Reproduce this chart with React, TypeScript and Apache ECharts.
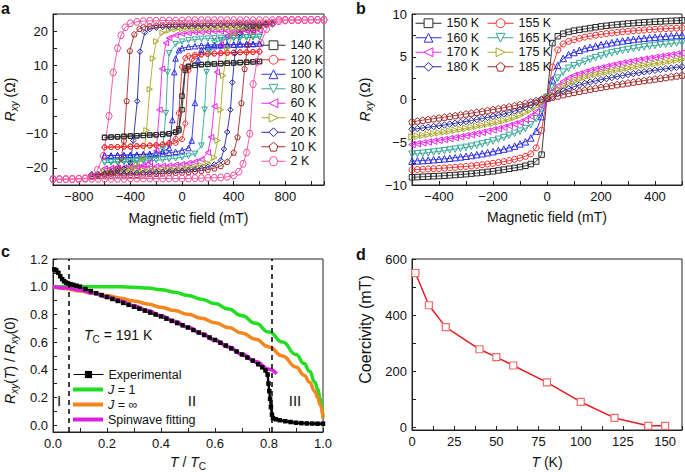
import React, { useEffect, useRef } from 'react';
import * as echarts from 'echarts';

// ---------------- Panel a : hysteresis loops (field mT, Rxy Ohm) ----------------
const A_NAMES = ['140 K', '120 K', '100 K', '80 K', '60 K', '40 K', '20 K', '10 K', '2 K'];

const A140_UP = [[-600,-11.1],[-550,-11.0],[-500,-10.9],[-450,-10.8],[-400,-10.7],[-350,-10.6],[-300,-10.5],[-250,-10.4],[-200,-10.3],[-150,-10.2],[-100,-10.0],[-50,-9.6],[-25,-9.1],[0,-3],[25,8.5],[50,9.6],[100,10.0],[150,10.2],[200,10.3],[250,10.4],[300,10.5],[350,10.6],[400,10.7],[450,10.8],[500,10.9],[550,11.0],[600,11.1]];
const A140_DOWN = [[-600,-11.1],[-550,-11.0],[-500,-10.9],[-450,-10.8],[-400,-10.7],[-350,-10.6],[-300,-10.5],[-250,-10.4],[-200,-10.3],[-150,-10.2],[-100,-10.0],[-50,-9.5],[-25,-8.6],[0,1],[25,9.2],[50,9.7],[100,10.0],[150,10.2],[200,10.3],[250,10.4],[300,10.5],[350,10.6],[400,10.7],[450,10.8],[500,10.9],[550,11.0],[600,11.1]];
const A120_UP = [[-600,-14.0],[-550,-13.9],[-500,-13.9],[-450,-13.8],[-400,-13.8],[-350,-13.7],[-300,-13.6],[-250,-13.5],[-200,-13.4],[-150,-13.3],[-100,-13.1],[-50,-12.7],[0,-11.6],[25,-7],[50,8.5],[75,11.8],[100,12.6],[150,13.1],[200,13.3],[250,13.4],[300,13.5],[350,13.6],[400,13.7],[450,13.8],[500,13.8],[550,13.9],[600,14.0]];
const A120_DOWN = [[-600,-14.0],[-550,-13.9],[-500,-13.9],[-450,-13.8],[-400,-13.7],[-350,-13.6],[-300,-13.5],[-250,-13.4],[-200,-13.3],[-150,-13.1],[-100,-12.7],[-50,-11.5],[-25,-4],[0,9.5],[25,12.1],[50,12.7],[100,13.1],[150,13.3],[200,13.4],[250,13.5],[300,13.6],[350,13.7],[400,13.7],[450,13.8],[500,13.8],[550,13.9],[600,14.0]];
const A100_UP = [[-600,-16.4],[-550,-16.4],[-500,-16.3],[-450,-16.3],[-400,-16.2],[-350,-16.2],[-300,-16.1],[-250,-16.0],[-200,-15.9],[-150,-15.8],[-100,-15.6],[-50,-15.3],[0,-14.9],[50,-14.2],[75,-12],[100,-1],[125,11.5],[150,14.5],[200,15.3],[250,15.6],[300,15.8],[350,15.9],[400,16.0],[450,16.1],[500,16.2],[550,16.2],[600,16.3]];
const A100_DOWN = [[-600,-16.4],[-550,-16.4],[-500,-16.3],[-450,-16.3],[-400,-16.2],[-350,-16.1],[-300,-16.0],[-250,-15.9],[-200,-15.6],[-150,-15.2],[-100,-14.2],[-75,-6],[-60,8],[-50,12],[-25,14.4],[0,15.0],[50,15.4],[100,15.6],[150,15.8],[200,15.9],[250,16.0],[300,16.0],[350,16.1],[400,16.1],[450,16.2],[500,16.2],[550,16.3],[600,16.3]];
const A80_UP = [[-600,-18.4],[-550,-18.4],[-500,-18.3],[-450,-18.3],[-400,-18.2],[-350,-18.1],[-300,-18.0],[-250,-17.9],[-200,-17.8],[-150,-17.6],[-100,-17.4],[-50,-17.2],[0,-16.9],[50,-16.5],[100,-15.9],[150,-13.5],[175,-3],[190,8],[210,14],[250,16.6],[300,17.3],[350,17.7],[400,17.9],[450,18.0],[500,18.1],[550,18.2],[600,18.3]];
const A80_DOWN = [[-600,-18.4],[-550,-18.3],[-500,-18.2],[-450,-18.1],[-400,-18.0],[-350,-17.8],[-300,-17.6],[-250,-17.2],[-200,-16.6],[-150,-14.5],[-125,-4],[-112,8],[-100,13.5],[-50,16.2],[0,16.9],[50,17.3],[100,17.5],[150,17.7],[200,17.8],[250,17.9],[300,18.0],[350,18.1],[400,18.1],[450,18.2],[500,18.2],[550,18.3],[600,18.3]];
const A60_UP = [[-600,-20.2],[-550,-20.1],[-500,-20.1],[-450,-20.0],[-400,-19.9],[-350,-19.8],[-300,-19.7],[-250,-19.6],[-200,-19.5],[-150,-19.4],[-100,-19.3],[-50,-19.1],[0,-18.9],[50,-18.6],[100,-18.2],[150,-17.5],[200,-15.5],[225,-11],[250,-2],[270,8],[300,16],[350,18.6],[400,19.4],[450,19.8],[500,20.0],[550,20.1],[600,20.2]];
const A60_DOWN = [[-600,-20.2],[-550,-20.1],[-500,-20.0],[-450,-19.9],[-400,-19.8],[-350,-19.6],[-300,-19.2],[-250,-18.3],[-200,-15],[-175,-3],[-155,9],[-125,16.5],[-100,18.0],[-50,18.8],[0,19.2],[50,19.4],[100,19.6],[150,19.7],[200,19.8],[250,19.9],[300,19.9],[350,20.0],[400,20.0],[450,20.1],[500,20.1],[550,20.2],[600,20.2]];
const A40_UP = [[-600,-21.1],[-550,-21.0],[-500,-21.0],[-450,-20.9],[-400,-20.9],[-350,-20.8],[-300,-20.7],[-250,-20.6],[-200,-20.5],[-150,-20.4],[-100,-20.3],[-50,-20.2],[0,-20.0],[50,-19.8],[100,-19.6],[150,-19.2],[200,-18.6],[250,-17],[275,-12],[300,-3],[320,7],[350,15],[400,19.3],[450,20.4],[500,20.8],[550,21.0],[600,21.1]];
const A40_DOWN = [[-600,-21.1],[-550,-21.0],[-500,-20.8],[-450,-20.5],[-400,-20.0],[-350,-19.2],[-300,-17.2],[-275,-9],[-250,3],[-225,12],[-200,17],[-150,19.5],[-100,20.2],[-50,20.5],[0,20.6],[50,20.7],[100,20.8],[150,20.8],[200,20.9],[250,20.9],[300,21.0],[350,21.0],[400,21.0],[450,21.1],[500,21.1],[550,21.1],[600,21.1]];
const A20_UP = [[-700,-21.9],[-650,-21.9],[-600,-21.8],[-550,-21.8],[-500,-21.7],[-450,-21.7],[-400,-21.6],[-350,-21.5],[-300,-21.4],[-250,-21.3],[-200,-21.2],[-150,-21.1],[-100,-21.0],[-50,-20.9],[0,-20.8],[50,-20.6],[100,-20.4],[150,-20.1],[200,-19.7],[250,-19.0],[300,-17.8],[325,-14.5],[350,-9.5],[375,-3],[390,5],[410,13.5],[450,19.3],[500,20.9],[550,21.4],[600,21.6],[650,21.8],[700,21.9]];
const A20_DOWN = [[-700,-21.9],[-650,-21.8],[-600,-21.6],[-550,-21.3],[-500,-20.9],[-450,-20.2],[-400,-18.5],[-378,-12],[-347,-0.5],[-326,14],[-288,19.6],[-250,20.6],[-200,21.0],[-150,21.2],[-100,21.3],[-50,21.4],[0,21.5],[50,21.5],[100,21.6],[150,21.6],[200,21.7],[250,21.7],[300,21.8],[350,21.8],[400,21.8],[450,21.9],[500,21.9],[550,21.9],[600,21.9],[650,21.9],[700,22.0]];
const A10_UP = [[-700,-22.3],[-650,-22.3],[-600,-22.2],[-550,-22.2],[-500,-22.1],[-450,-22.1],[-400,-22.0],[-350,-22.0],[-300,-21.9],[-250,-21.8],[-200,-21.7],[-150,-21.6],[-100,-21.5],[-50,-21.4],[0,-21.3],[50,-21.2],[100,-21.0],[150,-20.8],[200,-20.5],[250,-20.1],[300,-19.4],[350,-18.2],[400,-15.5],[430,-11],[460,-1],[485,9],[510,16],[550,20.3],[600,21.6],[650,22.1],[700,22.3]];
const A10_DOWN = [[-700,-22.3],[-650,-22.1],[-600,-21.8],[-550,-21.2],[-500,-20],[-470,-17],[-450,-12],[-429,-0.4],[-404,14.3],[-370,19.1],[-330,20.7],[-300,21.2],[-250,21.5],[-200,21.7],[-150,21.8],[-100,21.9],[-50,22.0],[0,22.0],[50,22.1],[100,22.1],[150,22.1],[200,22.2],[250,22.2],[300,22.2],[350,22.2],[400,22.3],[450,22.3],[500,22.3],[550,22.3],[600,22.3],[650,22.3],[700,22.3]];
const A2_UP = [[-1100,-23.3],[-1050,-23.3],[-1000,-23.3],[-950,-23.3],[-900,-23.3],[-850,-23.3],[-800,-23.2],[-750,-23.2],[-700,-23.2],[-650,-23.2],[-600,-23.2],[-550,-23.2],[-500,-23.2],[-450,-23.2],[-400,-23.1],[-350,-23.1],[-300,-23.1],[-250,-23.1],[-200,-23.1],[-150,-23.1],[-100,-23.1],[-50,-23.1],[0,-23.1],[50,-23.1],[100,-23.0],[150,-23.0],[200,-22.9],[250,-22.9],[300,-22.8],[350,-22.6],[400,-22.2],[440,-21.1],[473,-18.8],[500,-15.5],[525,-10],[551,4.5],[580,11],[610,16.5],[655,20.6],[700,22.4],[750,22.9],[800,23.1],[850,23.2],[900,23.2],[950,23.2],[1000,23.3],[1050,23.3],[1100,23.3]];
const A2_DOWN = [[-1100,-23.3],[-1050,-23.3],[-1000,-23.3],[-950,-23.3],[-900,-23.3],[-850,-23.2],[-800,-23.2],[-750,-23.0],[-700,-22.5],[-655,-20.6],[-610,-16.5],[-566,-4.8],[-533,7.9],[-500,15],[-473,18.8],[-440,21.1],[-400,22.3],[-350,22.7],[-300,22.9],[-250,23.0],[-200,23.0],[-150,23.1],[-100,23.1],[-50,23.1],[0,23.1],[50,23.2],[100,23.2],[150,23.2],[200,23.2],[250,23.2],[300,23.2],[350,23.2],[400,23.2],[450,23.2],[500,23.2],[550,23.2],[600,23.2],[650,23.2],[700,23.2],[750,23.3],[800,23.3],[850,23.3],[900,23.3],[950,23.3],[1000,23.3],[1050,23.3],[1100,23.3]];

const A_UP = [A140_UP, A120_UP, A100_UP, A80_UP, A60_UP, A40_UP, A20_UP, A10_UP, A2_UP];
const A_DOWN = [A140_DOWN, A120_DOWN, A100_DOWN, A80_DOWN, A60_DOWN, A40_DOWN, A20_DOWN, A10_DOWN, A2_DOWN];
const A_X_TICKS = { min: -1000, max: 1100, step: 200, labelStep: 400 };
const A_Y_TICKS = { min: -25, max: 25, step: 5, labelStep: 10 };

// ---------------- Panel b : above 150 K ----------------
const B_NAMES = ['150 K', '155 K', '160 K', '165 K', '170 K', '175 K', '180 K', '185 K'];
const B_FIELD = [-500,-480,-460,-440,-420,-400,-380,-360,-340,-320,-300,-280,-260,-240,-220,-200,-180,-160,-140,-120,-100,-80,-60,-40,-20,0,20,40,60,80,100,120,140,160,180,200,220,240,260,280,300,320,340,360,380,400,420,440,460,480,500];
const B150 = [-9.1,-9.07,-9.04,-9.01,-8.98,-8.95,-8.91,-8.87,-8.83,-8.78,-8.73,-8.67,-8.61,-8.55,-8.47,-8.4,-8.3,-8.2,-8.1,-8.0,-7.9,-7.75,-7.55,-7.25,-6.45,0.3,6.6,7.4,7.7,7.9,8.05,8.15,8.25,8.35,8.45,8.55,8.62,8.7,8.76,8.82,8.88,8.93,8.98,9.02,9.06,9.1,9.13,9.16,9.19,9.22,9.25];
const B155 = [-8.22,-8.19,-8.16,-8.13,-8.1,-8.06,-8.02,-7.98,-7.93,-7.88,-7.83,-7.77,-7.7,-7.63,-7.55,-7.47,-7.37,-7.27,-7.15,-7.0,-6.85,-6.65,-6.35,-5.65,-3.6,0.2,3.8,5.8,6.5,6.8,7.0,7.15,7.3,7.42,7.52,7.62,7.7,7.78,7.85,7.92,7.98,8.03,8.08,8.13,8.17,8.21,8.25,8.28,8.31,8.34,8.37];
const B160 = [-7.22,-7.18,-7.14,-7.09,-7.04,-6.99,-6.93,-6.87,-6.8,-6.72,-6.64,-6.55,-6.45,-6.34,-6.22,-6.1,-5.95,-5.8,-5.65,-5.45,-5.2,-4.95,-4.5,-3.7,-2.0,0.2,2.3,4.0,4.8,5.25,5.5,5.75,5.95,6.1,6.25,6.4,6.52,6.64,6.75,6.85,6.94,7.02,7.1,7.17,7.23,7.29,7.34,7.39,7.44,7.48,7.52];
const B165 = [-6.4,-6.35,-6.29,-6.22,-6.15,-6.07,-5.99,-5.9,-5.81,-5.71,-5.6,-5.48,-5.35,-5.2,-5.05,-4.85,-4.65,-4.45,-4.2,-3.95,-3.7,-3.4,-2.95,-2.25,-1.15,0.2,1.4,2.5,3.2,3.65,3.95,4.2,4.45,4.7,4.9,5.1,5.3,5.45,5.6,5.73,5.85,5.96,6.06,6.15,6.24,6.32,6.4,6.47,6.54,6.6,6.65];
const B170 = [-5.27,-5.17,-5.07,-4.97,-4.87,-4.77,-4.67,-4.57,-4.46,-4.35,-4.23,-4.11,-3.98,-3.85,-3.7,-3.55,-3.4,-3.25,-3.05,-2.85,-2.65,-2.35,-1.95,-1.45,-0.75,0.15,0.9,1.6,2.1,2.5,2.8,3.0,3.2,3.4,3.55,3.7,3.85,4.0,4.13,4.26,4.38,4.5,4.61,4.72,4.82,4.92,5.02,5.12,5.22,5.32,5.42];
const B175 = [-4.38,-4.3,-4.2,-4.1,-4.0,-3.9,-3.8,-3.7,-3.6,-3.5,-3.38,-3.26,-3.14,-3.02,-2.9,-2.77,-2.63,-2.48,-2.3,-2.1,-1.85,-1.55,-1.2,-0.8,-0.3,0.2,0.6,1.1,1.5,1.85,2.15,2.4,2.6,2.78,2.93,3.07,3.2,3.32,3.44,3.56,3.68,3.8,3.9,4.0,4.1,4.2,4.3,4.4,4.5,4.6,4.68];
const B180 = [-3.48,-3.41,-3.33,-3.25,-3.16,-3.07,-2.98,-2.88,-2.78,-2.68,-2.57,-2.46,-2.34,-2.22,-2.1,-1.97,-1.83,-1.69,-1.53,-1.35,-1.15,-0.9,-0.65,-0.35,-0.05,0.15,0.35,0.7,1.0,1.25,1.5,1.7,1.88,2.04,2.18,2.32,2.45,2.57,2.69,2.81,2.92,3.03,3.13,3.23,3.33,3.42,3.51,3.6,3.68,3.76,3.83];
const B185 = [-2.6,-2.51,-2.42,-2.33,-2.24,-2.15,-2.06,-1.97,-1.88,-1.79,-1.69,-1.59,-1.49,-1.39,-1.29,-1.18,-1.07,-0.96,-0.84,-0.72,-0.59,-0.45,-0.3,-0.13,0.05,0.12,0.28,0.42,0.57,0.71,0.84,0.97,1.09,1.21,1.32,1.43,1.54,1.64,1.74,1.84,1.94,2.04,2.13,2.22,2.31,2.4,2.49,2.58,2.67,2.76,2.85];
const B_VALUES = [B150, B155, B160, B165, B170, B175, B180, B185];

// ---------------- Panel c : normalised Rxy vs T/Tc ----------------
const C_EXP = [[0.005,1.125],[0.012,1.118],[0.02,1.1],[0.027,1.075],[0.034,1.055],[0.041,1.04],[0.048,1.03],[0.055,1.024],[0.065,1.018],[0.075,1.013],[0.087,1.007],[0.1,1.0],[0.12,0.983],[0.14,0.968],[0.16,0.953],[0.18,0.939],[0.2,0.925],[0.22,0.911],[0.24,0.897],[0.26,0.883],[0.28,0.869],[0.3,0.855],[0.32,0.841],[0.34,0.827],[0.36,0.813],[0.38,0.799],[0.4,0.785],[0.42,0.769],[0.44,0.753],[0.46,0.737],[0.48,0.721],[0.5,0.705],[0.52,0.687],[0.54,0.669],[0.56,0.651],[0.58,0.633],[0.6,0.615],[0.62,0.595],[0.64,0.575],[0.66,0.554],[0.68,0.532],[0.7,0.51],[0.72,0.488],[0.74,0.466],[0.76,0.44],[0.775,0.418],[0.787,0.395],[0.795,0.365],[0.798,0.3],[0.801,0.245],[0.804,0.19],[0.807,0.13],[0.811,0.075],[0.815,0.05],[0.825,0.042],[0.84,0.035],[0.86,0.028],[0.88,0.022],[0.9,0.017],[0.92,0.014],[0.94,0.012],[0.96,0.011],[0.98,0.01],[1.0,0.01]];
const C_J1 = [[0,1.0],[0.05,1.0],[0.1,1.0],[0.15,1.0],[0.2,1.0],[0.25,0.999],[0.3,0.996],[0.35,0.99],[0.4,0.978],[0.45,0.96],[0.5,0.937],[0.55,0.91],[0.6,0.878],[0.65,0.838],[0.7,0.79],[0.75,0.735],[0.8,0.672],[0.85,0.6],[0.9,0.51],[0.93,0.445],[0.95,0.39],[0.97,0.31],[0.98,0.26],[0.99,0.19],[1.0,0.05]];
const C_JINF = [[0,1.0],[0.05,0.985],[0.1,0.968],[0.15,0.952],[0.2,0.935],[0.25,0.917],[0.3,0.897],[0.35,0.875],[0.4,0.852],[0.45,0.827],[0.5,0.8],[0.55,0.771],[0.6,0.74],[0.65,0.705],[0.7,0.665],[0.75,0.62],[0.8,0.565],[0.85,0.5],[0.9,0.42],[0.93,0.36],[0.95,0.31],[0.97,0.245],[0.98,0.2],[0.99,0.145],[1.0,0.05]];
const C_SW = [[0,1.0],[0.05,0.99],[0.1,0.975],[0.15,0.952],[0.2,0.926],[0.25,0.896],[0.3,0.863],[0.35,0.828],[0.4,0.79],[0.45,0.75],[0.5,0.706],[0.55,0.661],[0.6,0.613],[0.65,0.564],[0.7,0.512],[0.75,0.459],[0.8,0.404],[0.828,0.37]];
const C_BOUNDS = [0.06, 0.815];
const C_Y_TICKS = [0, 0.1, 0.2, 0.3, 0.4, 0.5, 0.6, 0.7, 0.8, 0.9, 1.0, 1.1, 1.2];
const C_Y_LABELS = [0, 0.2, 0.4, 0.6, 0.8, 1.0, 1.2];

// ---------------- Panel d : coercivity ----------------
const D_T = [2, 10, 20, 40, 50, 60, 80, 100, 120, 140, 150];
const D_HC = [550, 435, 357, 278, 250, 220, 160, 90, 33, 5, 5];
const D_Y_TICKS = [0, 100, 200, 300, 400, 500, 600];
const D_Y_LABELS = [0, 200, 400, 600];

// ---------------- styling ----------------
const FONT = "'Liberation Sans', Arial, Helvetica, sans-serif";
const TXT = '#111';
const COLORS = ['#2a2a2a', '#f22a2a', '#2e2ee6', '#36a898', '#ee22ee', '#a9a92a', '#26269e', '#a52e2e', '#f2509e'];
const DOWN_TRI = 'path://M0,0 L10,0 L5,9 Z';
const LEFT_TRI = 'path://M9,0 L9,10 L0,5 Z';
const RIGHT_TRI = 'path://M0,0 L0,10 L9,5 Z';
const PENTAGON = 'path://M5,0 L10,3.8 L8.1,9.6 L1.9,9.6 L0,3.8 Z';
const HEXAGON = 'path://M2.5,0 L7.5,0 L10,4.33 L7.5,8.66 L2.5,8.66 L0,4.33 Z';
const SYMBOLS = ['rect', 'circle', 'triangle', DOWN_TRI, LEFT_TRI, RIGHT_TRI, 'diamond', PENTAGON, HEXAGON];
const A_SIZES = [4.5, 5, 5.5, 5.5, 5.5, 5.5, 5.5, 5.5, 6.5];
const B_SIZES = [5.5, 6, 6.5, 6.5, 6.5, 6.5, 6.5, 6.5, 6.5];
const GREEN = '#22dd22';
const ORANGE = '#f2871e';
const MAGENTA = '#e01ee0';

const RICH = {
  i: { fontStyle: 'italic', fontSize: 14, fontFamily: FONT, color: TXT, lineHeight: 18 },
  sub: { fontStyle: 'italic', fontSize: 10, fontFamily: FONT, color: TXT, verticalAlign: 'bottom', lineHeight: 10 },
  subu: { fontSize: 10, fontFamily: FONT, color: TXT, verticalAlign: 'bottom', lineHeight: 10 },
};

const minus = (s: string) => s.replace('-', '\u2212');

function axis(gridIndex: number, extra: any) {
  return {
    gridIndex,
    type: 'value',
    nameLocation: 'middle',
    axisLine: { show: true, onZero: false, lineStyle: { color: '#222', width: 1 } },
    axisTick: { show: true, inside: true, length: 4, lineStyle: { color: '#222', width: 1 } },
    splitLine: { show: false },
    ...extra,
    nameTextStyle: { color: TXT, fontSize: 14, fontFamily: FONT, lineHeight: 18, rich: RICH, ...(extra.nameTextStyle || {}) },
    axisLabel: { color: TXT, fontSize: 13, fontFamily: FONT, margin: 5, ...(extra.axisLabel || {}) },
  };
}

function stepLabel(step: number) {
  return (v: number) => (Math.abs(Math.round(v / step) * step - v) < 1e-9 ? minus(String(v)) : '');
}

function buildOption() {
  const series: any[] = [];
  A_NAMES.forEach((name, k) => {
    [A_UP[k], A_DOWN[k]].forEach((data) => {
      series.push({
        type: 'line', name, xAxisIndex: 0, yAxisIndex: 0, data,
        symbol: SYMBOLS[k], symbolSize: A_SIZES[k], showSymbol: true,
        lineStyle: { color: COLORS[k], width: 0.9 },
        itemStyle: { color: 'rgba(255,255,255,0)', borderColor: COLORS[k], borderWidth: 1 },
        emphasis: { disabled: true }, silent: true,
      });
    });
  });
  B_NAMES.forEach((name, k) => {
    series.push({
      type: 'line', name, xAxisIndex: 1, yAxisIndex: 1,
      data: B_FIELD.map((h, i) => [h, B_VALUES[k][i]]),
      symbol: SYMBOLS[k], symbolSize: B_SIZES[k], showSymbol: true,
      lineStyle: { color: COLORS[k], width: 0.9 },
      itemStyle: { color: 'rgba(255,255,255,0)', borderColor: COLORS[k], borderWidth: 1 },
      emphasis: { disabled: true }, silent: true,
    });
  });
  series.push({
    type: 'line', name: 'Experimental', xAxisIndex: 2, yAxisIndex: 2, data: C_EXP,
    symbol: 'rect', symbolSize: 4.5, showSymbol: true,
    lineStyle: { color: '#000', width: 2.4 }, itemStyle: { color: '#000' },
    emphasis: { disabled: true }, silent: true,
  });
  [['J = 1', C_J1, GREEN], ['J = \u221e', C_JINF, ORANGE], ['Spinwave fitting', C_SW, MAGENTA]].forEach(([name, data, color]: any, idx) => {
    const s: any = {
      type: 'line', name, xAxisIndex: 2, yAxisIndex: 2, data, symbol: 'none',
      smooth: true, smoothMonotone: 'x',
      lineStyle: { color, width: 3.5 }, itemStyle: { color },
      emphasis: { disabled: true }, silent: true,
    };
    if (idx === 2) {
      s.markLine = {
        silent: true, symbol: ['none', 'none'], label: { show: false },
        lineStyle: { type: [5, 4], color: '#000', width: 1.5 },
        data: C_BOUNDS.map((b) => ({ xAxis: b })),
      };
    }
    series.push(s);
  });
  series.push({
    type: 'line', name: 'Coercivity', xAxisIndex: 3, yAxisIndex: 3,
    data: D_T.map((t, i) => [t, D_HC[i]]),
    symbol: 'rect', symbolSize: 7, showSymbol: true,
    lineStyle: { color: '#e41c23', width: 1.5 },
    itemStyle: { color: '#fff', borderColor: '#f06a6a', borderWidth: 1.2 },
    emphasis: { disabled: true }, silent: true,
  });

  const gridBox = { show: true, borderColor: '#222', borderWidth: 1, backgroundColor: 'transparent' };
  const legendText = { fontSize: 12.5, color: TXT, fontFamily: FONT, lineHeight: 14.5 };
  const markerLegendItem = { color: '#fff', borderWidth: 1 };
  const markerLegendLine = { width: 1 };

  const textEl = (x: number, y: number, text: string, size: number, extra: any = {}) => ({
    type: 'text', x, y, silent: true,
    style: {
      text, x: 0, y: 0, fill: TXT, fontSize: size, fontFamily: FONT,
      fontWeight: extra.fontWeight || 'normal',
      font: `${extra.fontWeight || 'normal'} ${size}px ${FONT}`,
      align: extra.align || 'left', textAlign: extra.align || 'left',
      verticalAlign: 'middle', textVerticalAlign: 'middle',
      rich: extra.rich,
    },
  });

  return {
    animation: false,
    backgroundColor: '#fff',
    textStyle: { fontFamily: FONT },
    grid: [
      { left: 51, top: 14, width: 273, height: 171, ...gridBox },
      { left: 412, top: 14, width: 272, height: 171, ...gridBox },
      { left: 51, top: 259, width: 272, height: 173, ...gridBox },
      { left: 412, top: 259, width: 272, height: 173, ...gridBox },
    ],
    xAxis: [
      axis(0, { min: A_X_TICKS.min, max: A_X_TICKS.max, interval: A_X_TICKS.step, name: 'Magnetic field (mT)', nameGap: 24, axisLabel: { formatter: stepLabel(A_X_TICKS.labelStep) } }),
      axis(1, { min: -500, max: 500, interval: 100, name: 'Magnetic field (mT)', nameGap: 23, axisLabel: { formatter: stepLabel(200) } }),
      axis(2, { min: 0, max: 1, interval: 0.1, name: '{i|T} / {i|T}{subu|C}', nameGap: 21, axisLabel: { formatter: (v: number) => (Math.round(v * 10) % 2 === 0 ? v.toFixed(1) : '') } }),
      axis(3, { min: 0, max: 160, interval: 12.5, name: '{i|T} (K)', nameGap: 23, axisLabel: { formatter: stepLabel(25) } }),
    ],
    yAxis: [
      axis(0, { min: A_Y_TICKS.min, max: A_Y_TICKS.max, interval: A_Y_TICKS.step, name: '{i|R}{sub|xy} (\u03a9)', nameGap: 34, axisLabel: { formatter: stepLabel(A_Y_TICKS.labelStep) } }),
      axis(1, { min: -10, max: 10, interval: 2.5, name: '{i|R}{sub|xy} (\u03a9)', nameGap: 38, axisLabel: { formatter: stepLabel(5) } }),
      axis(2, {
        min: -0.05, max: 1.2, name: '{i|R}{sub|xy}({i|T}) / {i|R}{sub|xy}(0)', nameGap: 34,
        nameTextStyle: { padding: [0, 30, 0, 0] },
        axisTick: { show: true, inside: true, length: 4, customValues: C_Y_TICKS, lineStyle: { color: '#222', width: 1 } },
        axisLabel: { customValues: C_Y_LABELS, formatter: (v: number) => v.toFixed(1) },
      }),
      axis(3, {
        min: -10, max: 600, name: 'Coercivity (mT)', nameGap: 38,
        nameTextStyle: { fontSize: 16, padding: [0, 0, 0, 30] },
        axisTick: { show: true, inside: true, length: 4, customValues: D_Y_TICKS, lineStyle: { color: '#222', width: 1 } },
        axisLabel: { customValues: D_Y_LABELS, formatter: (v: number) => String(v) },
      }),
    ],
    legend: [
      { orient: 'vertical', left: 261, top: 38, padding: 0, itemWidth: 24, itemHeight: 11, itemGap: 0, data: A_NAMES, textStyle: legendText, itemStyle: markerLegendItem, lineStyle: markerLegendLine, selectedMode: false },
      { orient: 'vertical', left: 415, top: 16, padding: 0, itemWidth: 26, itemHeight: 11, itemGap: 0, data: B_NAMES.filter((_, i) => i % 2 === 0), textStyle: legendText, itemStyle: markerLegendItem, lineStyle: markerLegendLine, selectedMode: false },
      { orient: 'vertical', left: 487, top: 16, padding: 0, itemWidth: 26, itemHeight: 11, itemGap: 0, data: B_NAMES.filter((_, i) => i % 2 === 1), textStyle: legendText, itemStyle: markerLegendItem, lineStyle: markerLegendLine, selectedMode: false },
      { orient: 'vertical', left: 73, top: 367, padding: 0, itemWidth: 30, itemHeight: 9, itemGap: 0, data: ['Experimental'], textStyle: { ...legendText, lineHeight: 15 }, lineStyle: { width: 1 }, selectedMode: false },
      {
        orient: 'vertical', left: 73, top: 382, padding: 0, itemWidth: 30, itemHeight: 4, itemGap: 0,
        data: [{ name: 'J = 1', icon: 'rect' }, { name: 'J = \u221e', icon: 'rect' }, { name: 'Spinwave fitting', icon: 'rect' }],
        formatter: (n: string) => (n.charAt(0) === 'J' ? '{i|J}' + n.slice(1) : n),
        textStyle: { ...legendText, lineHeight: 15, rich: { i: { fontStyle: 'italic', fontSize: 12.5, fontFamily: FONT, color: TXT } } },
        selectedMode: false,
      },
    ],
    series,
    graphic: [
      textEl(1, 8, 'a', 16, { fontWeight: 'bold' }),
      textEl(356, 8, 'b', 16, { fontWeight: 'bold' }),
      textEl(1, 251, 'c', 16, { fontWeight: 'bold' }),
      textEl(356, 254, 'd', 16, { fontWeight: 'bold' }),
      textEl(84, 335, '{i|T}{subu|C} = 191 K', 14, { rich: RICH }),
      textEl(59, 400, 'I', 15, { align: 'center' }),
      textEl(192, 400, 'II', 15, { align: 'center' }),
      textEl(295, 400, 'III', 15, { align: 'center' }),
    ],
  };
}

export default function App() {
  const ref = useRef<HTMLDivElement>(null);
  useEffect(() => {
    const chart = echarts.init(ref.current as HTMLDivElement, null, { renderer: 'svg' });
    chart.setOption(buildOption() as any);
    return () => chart.dispose();
  }, []);
  return (
    <div
      ref={ref}
      style={{ position: 'fixed', left: 0, top: 0, width: 685, height: 472, background: '#fff' }}
    />
  );
}
